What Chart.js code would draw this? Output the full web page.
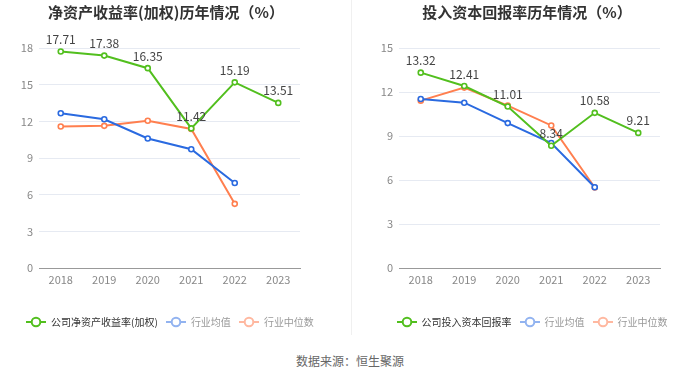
<!DOCTYPE html>
<html><head><meta charset="utf-8">
<script src="https://cdn.jsdelivr.net/npm/chart.js@4"></script>
<style>
html,body{margin:0;padding:0;background:#fff;width:700px;height:378px;overflow:hidden;font-family:"Noto Sans CJK SC","Noto Sans",sans-serif;}
.box{position:absolute;top:0;width:350px;height:340px;}
.title{position:absolute;top:1px;width:400px;text-align:center;font-size:15px;font-weight:bold;color:#333;line-height:22px;}
#divider{position:absolute;left:351px;top:0;width:1px;height:335px;background:#f0f0f0;}
#src{position:absolute;left:0;width:700px;top:352px;text-align:center;font-size:12px;color:#666;}
.legend{position:absolute;top:314px;width:400px;height:16px;display:flex;justify-content:center;align-items:center;font-size:10px;line-height:16px;}
.item{display:flex;align-items:center;margin:0 4px;}
.item canvas{margin-right:5px;}
</style></head><body>
<div class="box" style="left:0"><canvas id="c1" width="350" height="340"></canvas></div>
<div id="divider"></div>
<div class="box" style="left:350px"><canvas id="c2" width="350" height="340"></canvas></div>
<div class="title" style="left:-34px">净资产收益率(加权)历年情况（%）</div>
<div class="title" style="left:327px">投入资本回报率历年情况（%）</div>
<div class="legend" id="l1" style="left:-30px"></div>
<div class="legend" id="l2" style="left:332px"></div>
<div id="src">数据来源：恒生聚源</div>
<script>
const years = ["2018","2019","2020","2021","2022","2023"];
const roeCompany = [17.71, 17.38, 16.35, 11.42, 15.19, 13.51];
const roeIndAvg = [12.66, 12.17, 10.6, 9.72, 6.95, null];
const roeIndMed = [11.58, 11.63, 12.05, 11.38, 5.25, null];
const roicCompany = [13.32, 12.41, 11.01, 8.34, 10.58, 9.21];
const roicIndAvg = [11.52, 11.27, 9.88, 8.52, 5.51, null];
const roicIndMed = [11.41, 12.3, 11.07, 9.72, 5.49, null];
const roeTicks = [0,3,6,9,12,15,18];
const roicTicks = [0,3,6,9,12,15];

const GREEN="#52bf1e", BLUE="#2a6ae0", ORANGE="#ff7f4f";
const FONT='"Noto Sans CJK SC","Noto Sans",sans-serif';

function icon(color){
  const c=document.createElement('canvas'); c.width=20; c.height=12;
  const g=c.getContext('2d'); g.strokeStyle=color; g.lineWidth=2;
  g.beginPath(); g.moveTo(0,6); g.lineTo(20,6); g.stroke();
  g.fillStyle="#fff"; g.beginPath(); g.arc(10,6,4.3,0,Math.PI*2); g.fill(); g.stroke();
  return c;
}

const labelPlugin={
  id:'vlabels',
  afterDatasetsDraw(chart){
    const ctx=chart.ctx; const meta=chart.getDatasetMeta(0); const ds=chart.data.datasets[0];
    ctx.save(); ctx.font='12px '+FONT; ctx.fillStyle='#444'; ctx.textAlign='center'; ctx.textBaseline='bottom';
    meta.data.forEach((p,i)=>{ if(ds.data[i]!=null) ctx.fillText(ds.data[i].toFixed(2), p.x, p.y-6); });
    ctx.restore();
  }
};

function make(id,legId,name,comp,avg,med,ticks,yw,padR){
  const mk=(label,data,color)=>({label,data,borderColor:color,backgroundColor:'#fff',borderWidth:2,pointRadius:2.5,pointBorderWidth:1.6,pointBackgroundColor:'#fff',pointBorderColor:color,tension:0,spanGaps:false});
  const chart=new Chart(document.getElementById(id),{
    type:'line',
    data:{labels:years,datasets:[mk(name,comp,GREEN),mk("行业均值",avg,BLUE),mk("行业中位数",med,ORANGE)]},
    options:{
      responsive:false,animation:false,
      layout:{padding:{left:0,right:padR,top:48,bottom:32}},
      plugins:{title:{display:false},legend:{display:false},tooltip:{enabled:false}},
      scales:{
        x:{offset:true,grid:{display:false,drawTicks:false},border:{color:'#999'},ticks:{color:'#888',font:{family:FONT,size:11},padding:5},
           afterFit(ax){ax.height=40;}},
        y:{min:ticks[0],max:ticks[ticks.length-1],afterBuildTicks(ax){ax.ticks=ticks.map(v=>({value:v}));},
           grid:{color:'#e6eaf2',drawTicks:false},border:{display:false},ticks:{color:'#888',font:{family:FONT,size:11},padding:6},
           afterFit(ax){ax.width=yw;}}
      }
    },
    plugins:[labelPlugin]
  });
  const iconCols=[GREEN,"#92b3f0","#ffb8a0"], txtCols=["#333","#999","#999"];
  const leg=document.getElementById(legId);
  chart.data.datasets.forEach((d,i)=>{
    const it=document.createElement('div'); it.className='item';
    it.appendChild(icon(iconCols[i]));
    const s=document.createElement('span'); s.textContent=d.label; s.style.color=txtCols[i];
    it.appendChild(s); leg.appendChild(it);
  });
}
make('c1','l1','公司净资产收益率(加权)',roeCompany,roeIndAvg,roeIndMed,roeTicks,39,50);
make('c2','l2','公司投入资本回报率',roicCompany,roicIndAvg,roicIndMed,roicTicks,49,40);
</script>
</body></html>
